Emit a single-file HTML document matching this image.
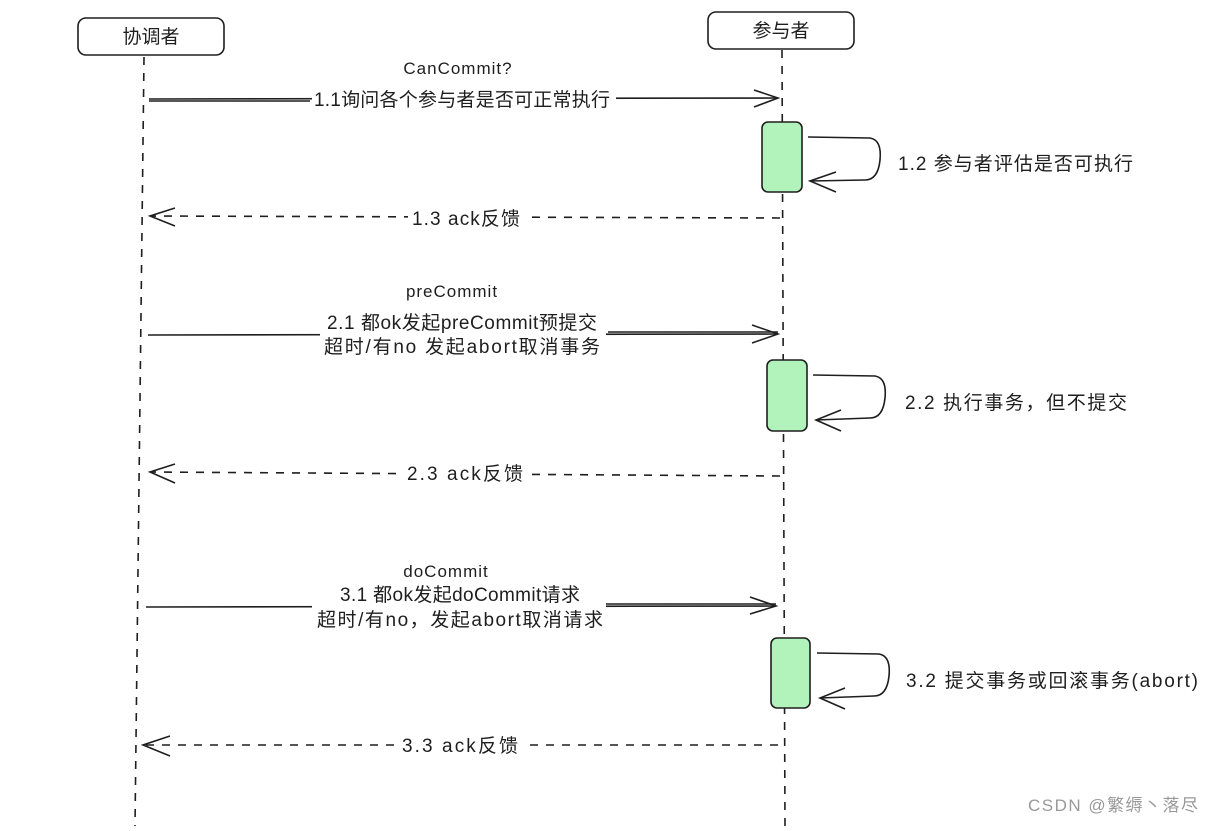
<!DOCTYPE html>
<html><head><meta charset="utf-8"><style>
html,body{margin:0;padding:0;background:#fff;}
svg text{font-family:"Liberation Sans","Noto Sans CJK SC",sans-serif;fill:#1e1e1e;}
</style></head><body>
<svg width="1214" height="826" viewBox="0 0 1214 826" xmlns="http://www.w3.org/2000/svg">
<g stroke="#1e1e1e" fill="none" stroke-width="1.6">
<path d="M144 57 L135 826" stroke-dasharray="8 8"/>
<path d="M782 50 L785 826" stroke-dasharray="8 8"/>
<rect x="78" y="18" width="146" height="37" rx="8"/>
<rect x="708" y="12" width="146" height="37" rx="8"/>
<path d="M149 99 L778 98"/><path d="M149 101 L310 101"/>
<path d="M754 90 L778 98 L754 107"/>
<rect x="762" y="122" width="40" height="70" rx="6" fill="#b2f2bb"/>
<rect x="767" y="360" width="40" height="71" rx="6" fill="#b2f2bb"/>
<rect x="771" y="638" width="39" height="70" rx="6" fill="#b2f2bb"/>
<path d="M808 137 L870 138 Q882 140 880 160 Q878 180 865 180 L810 181"/>
<path d="M836 172 L810 181 L836 192"/>
<path d="M813 375 L875 376 Q887 378 885 398 Q883 418 870 418 L816 420"/>
<path d="M841 410 L816 420 L841 431"/>
<path d="M817 653 L879 654 Q891 656 889 676 Q887 696 874 696 L820 698"/>
<path d="M845 688 L820 698 L845 709"/>
<path d="M780 218 L150 216" stroke-dasharray="8 8"/>
<path d="M175 208 L150 216 L175 226"/>
<path d="M148 335 L778 334"/><path d="M608 332 L778 332"/>
<path d="M752 325 L778 334 L752 343"/>
<path d="M780 476 L150 472" stroke-dasharray="8 8"/>
<path d="M175 464 L150 472 L175 483"/>
<path d="M146 607 L776 606"/><path d="M606 604 L776 604"/>
<path d="M750 597 L776 606 L750 614"/>
<path d="M778 745 L143 745" stroke-dasharray="8 8"/>
<path d="M170 736 L143 745 L170 756"/>
</g>
<g font-size="19">
<text x="151" y="43" text-anchor="middle" font-size="19">协调者</text>
<text x="781" y="37" text-anchor="middle" font-size="19">参与者</text>
<text x="458" y="74" text-anchor="middle" font-size="17" letter-spacing="1">CanCommit?</text>
<rect x="312" y="86" width="304" height="26" fill="#fff"/>
<text x="462" y="106" text-anchor="middle" textLength="296">1.1询问各个参与者是否可正常执行</text>
<text x="898" y="170" textLength="235">1.2  参与者评估是否可执行</text>
<rect x="408" y="205" width="116" height="26" fill="#fff"/>
<text x="466" y="225" text-anchor="middle" textLength="108">1.3  ack反馈</text>
<text x="452" y="297" text-anchor="middle" font-size="17" letter-spacing="1">preCommit</text>
<rect x="320" y="310" width="286" height="48" fill="#fff"/>
<text x="462" y="329" text-anchor="middle" textLength="270">2.1 都ok发起preCommit预提交</text>
<text x="462" y="353" text-anchor="middle" textLength="276">超时/有no 发起abort取消事务</text>
<text x="905" y="409" textLength="222">2.2  执行事务，但不提交</text>
<rect x="404" y="461" width="124" height="26" fill="#fff"/>
<text x="465" y="480" text-anchor="middle" textLength="116">2.3  ack反馈</text>
<text x="446" y="577" text-anchor="middle" font-size="17" letter-spacing="1">doCommit</text>
<rect x="312" y="582" width="294" height="48" fill="#fff"/>
<text x="460" y="601" text-anchor="middle" textLength="240">3.1 都ok发起doCommit请求</text>
<text x="460" y="626" text-anchor="middle" textLength="286">超时/有no，发起abort取消请求</text>
<text x="906" y="687" textLength="292">3.2  提交事务或回滚事务(abort)</text>
<rect x="398" y="733" width="124" height="26" fill="#fff"/>
<text x="460" y="752" text-anchor="middle" textLength="116">3.3  ack反馈</text>
<text x="1028" y="811" font-size="17" style="fill:#999" textLength="170">CSDN @繁缛丶落尽</text>
</g>
</svg>
</body></html>
